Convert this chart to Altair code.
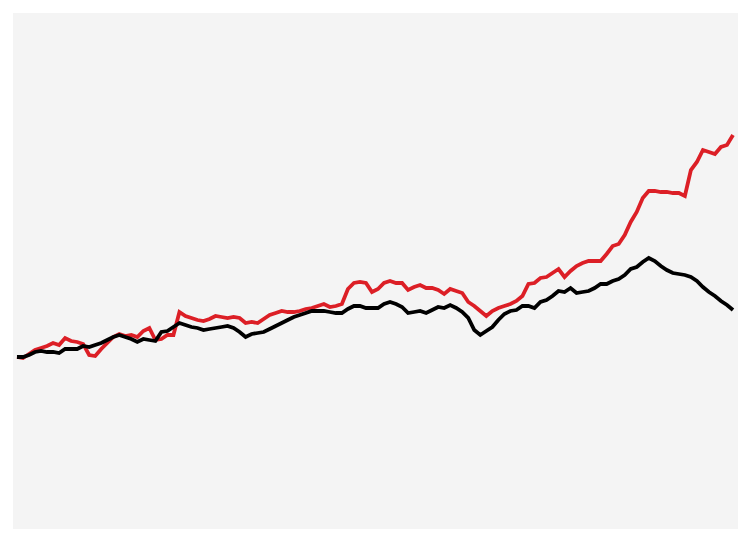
import altair as alt
import pandas as pd

months = list(range(120))

red_values = [100, 99, 103, 107, 109, 111, 114, 112, 119, 116, 115, 113, 102, 101, 108, 114, 120, 123, 121, 122,
              120, 126, 129, 117, 118, 122, 122, 145, 141, 139, 137, 136, 138, 141, 140, 139, 140, 139, 134, 135,
              134, 138, 142, 144, 146, 145, 145, 146, 148, 149, 151, 153, 150, 151, 153, 168, 174, 175, 174, 165,
              168, 174, 176, 174, 174, 167, 170, 172, 169, 169, 167, 163, 168, 166, 164, 155, 151, 146, 141, 146,
              149, 151, 153, 156, 161, 173, 174, 179, 180, 184, 188, 180, 186, 191, 194, 196, 196, 196, 203, 211,
              213, 222, 235, 245, 259, 266, 266, 265, 265, 264, 264, 261, 287, 295, 307, 305, 303, 310, 312, 322]

black_values = [100, 100, 102, 105, 106, 105, 105, 104, 108, 108, 108, 111, 110, 112, 114, 117, 120, 122, 120, 118,
                115, 118, 117, 116, 125, 126, 130, 134, 132, 130, 129, 127, 128, 129, 130, 131, 129, 125, 120, 123,
                124, 125, 128, 131, 134, 137, 140, 142, 144, 146, 146, 146, 145, 144, 144, 148, 151, 151, 149, 149,
                149, 153, 155, 153, 150, 144, 145, 146, 144, 147, 150, 149, 152, 149, 145, 139, 127, 122, 126, 130,
                137, 143, 146, 147, 151, 151, 149, 155, 157, 161, 166, 165, 169, 164, 165, 166, 169, 173, 173, 176,
                178, 182, 188, 190, 195, 199, 196, 191, 187, 184, 183, 182, 180, 176, 170, 165, 161, 156, 152, 147]

series_names = ["Red series", "Black series"]
series_colors = ["#dc1f26", "#000000"]

df = pd.concat([
    pd.DataFrame({"month": months, "value": red_values, "series": series_names[0]}),
    pd.DataFrame({"month": months, "value": black_values, "series": series_names[1]}),
])

chart = alt.Chart(df).mark_line(strokeWidth=3.8, strokeJoin="miter", strokeMiterLimit=4).encode(
    x=alt.X("month:Q", axis=None, scale=alt.Scale(domain=[-0.66, 119.83], nice=False, zero=False)),
    y=alt.Y("value:Q", axis=None, scale=alt.Scale(domain=[-72, 444], nice=False, zero=False)),
    color=alt.Color("series:N", legend=None,
                    scale=alt.Scale(domain=series_names, range=series_colors)),
    order=alt.Order("month:Q"),
).properties(
    width=725, height=516,
    padding={"left": 5, "top": 5, "right": 0, "bottom": 0},
    autosize=alt.AutoSizeParams(type="none")
).configure_view(
    fill="#f4f4f4", strokeWidth=0
)

chart.save("out.html", embed_options={"renderer": "svg", "actions": False})
